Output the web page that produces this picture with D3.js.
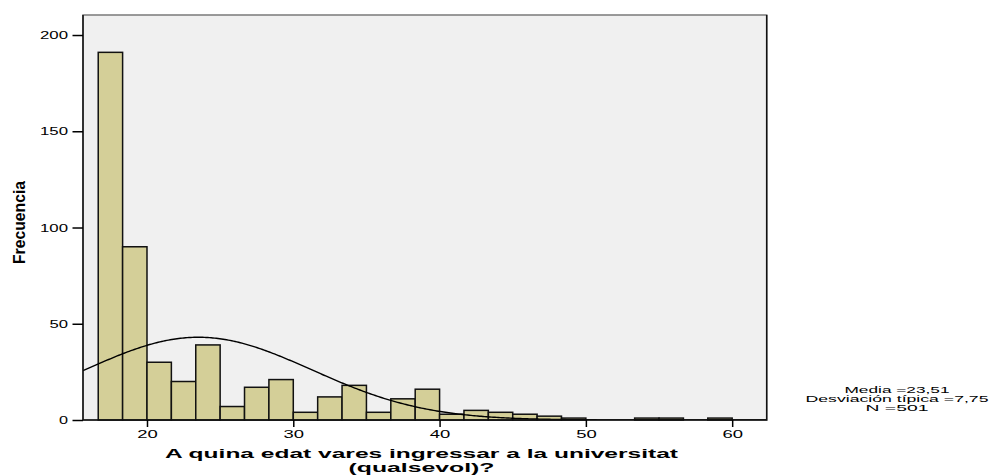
<!DOCTYPE html>
<html>
<head>
<meta charset="utf-8">
<script src="https://cdn.jsdelivr.net/npm/d3@7"></script>
<style>
  html, body { margin: 0; padding: 0; background: #fff; }
  svg { display: block; font-family: "Liberation Sans", Arial, sans-serif; }
</style>
</head>
<body>
<svg id="chart" width="989" height="476"></svg>
<script>
// ---- Data ----
const binStart = 50 / 3;          // first bin lower edge (16.67)
const binWidth = 5 / 3;           // bin width
const counts = [191, 90, 30, 20, 39, 7, 17, 21, 4, 12, 18, 4, 11, 16, 3, 5, 4, 3, 2, 1, 0, 0, 1, 1, 0, 1];
const xTicks = [20, 30, 40, 50, 60];
const yTicks = [0, 50, 100, 150, 200];
const stats = { mean: 23.51, sd: 7.75, n: 501 };
const statLines = ["Media =23,51", "Desviación típica =7,75", "N =501"];
const xTitleLines = ["A quina edat vares ingressar a la universitat", "(qualsevol)?"];
const yTitle = "Frecuencia";

// ---- Layout ----
const L = 83, R = 766.7, T = 15, B = 420;
const svg = d3.select("#chart");

const x = d3.scaleLinear().domain([15.626, 62.36]).range([L, R]);
const y = d3.scaleLinear().domain([0, 210.4]).range([B, T]);

// plot background
svg.append("rect").attr("x", L).attr("y", T).attr("width", R - L).attr("height", B - T)
  .attr("fill", "#f0f0f0").attr("stroke", "#7a7a7a").attr("stroke-width", 1.5);

svg.append("defs").append("clipPath").attr("id", "clip")
  .append("rect").attr("x", L).attr("y", T).attr("width", R - L).attr("height", B - T);

// bars
const bins = counts.map((c, i) => ({ x0: binStart + i * binWidth, x1: binStart + (i + 1) * binWidth, c }));
svg.append("g").selectAll("rect").data(bins.filter(d => d.c > 0)).join("rect")
  .attr("x", d => x(d.x0))
  .attr("y", d => y(d.c))
  .attr("width", d => x(d.x1) - x(d.x0))
  .attr("height", d => y(0) - y(d.c))
  .attr("fill", "#d4cf98")
  .attr("stroke", "#111")
  .attr("stroke-width", 1.5);

// normal curve
const scaleN = stats.n * binWidth / (stats.sd * Math.sqrt(2 * Math.PI));
const curvePts = d3.range(0, 401).map(i => {
  const v = 15.626 + (62.36 - 15.626) * i / 400;
  const z = (v - stats.mean) / stats.sd;
  return [v, scaleN * Math.exp(-0.5 * z * z)];
});
svg.append("path").datum(curvePts)
  .attr("clip-path", "url(#clip)")
  .attr("fill", "none").attr("stroke", "#000").attr("stroke-width", 1.4)
  .attr("d", d3.line().x(d => x(d[0])).y(d => y(d[1])));

// frame dark edges (left, bottom, right)
svg.append("path")
  .attr("d", `M${L},${T} L${L},${B} L${R},${B} L${R},${T}`)
  .attr("fill", "none").attr("stroke", "#111").attr("stroke-width", 1.5);

// axes
const yAxis = svg.append("g").attr("transform", `translate(${L},0)`)
  .call(d3.axisLeft(y).tickValues(yTicks).tickSize(10.5).tickPadding(4.5).tickFormat(d3.format("d")));
const xAxis = svg.append("g").attr("transform", `translate(0,${B})`)
  .call(d3.axisBottom(x).tickValues(xTicks).tickSize(7).tickPadding(3.5).tickFormat(d3.format("d")));

[yAxis, xAxis].forEach(g => {
  g.select(".domain").remove();
  g.selectAll(".tick line").attr("stroke", "#000").attr("stroke-width", 1.5);
  g.selectAll(".tick text").attr("fill", "#000").style("font-size", "10px")
    .style("font-family", "'Liberation Sans', Arial, sans-serif");
});
yAxis.selectAll(".tick text").attr("dy", "0.36em")
  .attr("textLength", d => String(d).length * 9.5 - 0.5).attr("lengthAdjust", "spacingAndGlyphs");
xAxis.selectAll(".tick text")
  .attr("textLength", 20.5).attr("lengthAdjust", "spacingAndGlyphs");

// y title
svg.append("text")
  .attr("transform", "translate(24.5,222.5) rotate(-90)")
  .attr("text-anchor", "middle")
  .attr("font-weight", "bold").attr("font-size", "16.5px")
  .attr("textLength", 83).attr("lengthAdjust", "spacingAndGlyphs")
  .text(yTitle);

// x title
const xtLens = [513, 146];
const xtBase = [457.5, 472];
xTitleLines.forEach((t, i) => {
  svg.append("text")
    .attr("x", 421.5).attr("y", xtBase[i])
    .attr("text-anchor", "middle")
    .attr("font-weight", "bold").attr("font-size", "13.5px")
    .attr("textLength", xtLens[i]).attr("lengthAdjust", "spacingAndGlyphs")
    .text(t);
});

// stats legend
const stLens = [105, 183, 63];
const stBase = [392.5, 401.8, 411];
statLines.forEach((t, i) => {
  svg.append("text")
    .attr("x", 897).attr("y", stBase[i])
    .attr("text-anchor", "middle")
    .attr("font-size", "8.6px")
    .attr("textLength", stLens[i]).attr("lengthAdjust", "spacingAndGlyphs")
    .text(t);
});
</script>
</body>
</html>
